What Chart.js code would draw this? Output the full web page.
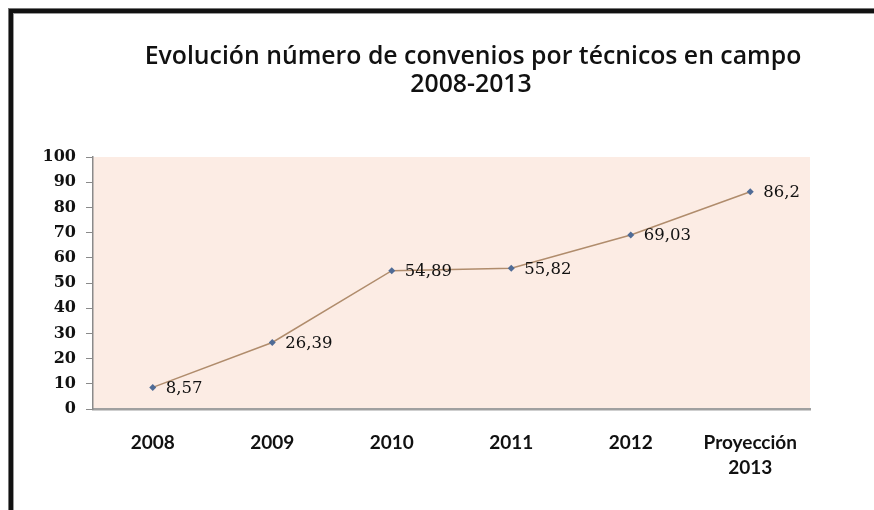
<!DOCTYPE html>
<html>
<head>
<meta charset="utf-8">
<script src="https://cdn.jsdelivr.net/npm/chart.js@4.4.1/dist/chart.umd.min.js"></script>
<style>
  html, body { margin: 0; padding: 0; background: #fff; overflow: hidden; }
  #wrap { position: relative; width: 874px; height: 510px; }
  #frame {
    position: absolute; left: 9px; top: 9px; width: 1000px; height: 700px;
    border-left: 4px solid #111; border-top: 4px solid #111;
    box-shadow: -1px -1px 0 0 #777, inset 1px 1px 0 0 #999;
    pointer-events: none;
  }
  canvas { position: absolute; left: 0; top: 0; }
</style>
</head>
<body>
<div id="wrap">
  <div id="frame"></div>
  <canvas id="chart" width="874" height="510"></canvas>
</div>
<script>
// datos
const categorias = ["2008", "2009", "2010", "2011", "2012", ["Proyección", "2013"]];
const convenios = [8.57, 26.39, 54.89, 55.82, 69.03, 86.2];
const ticksY = [0, 10, 20, 30, 40, 50, 60, 70, 80, 90, 100];
const titulo = ["Evolución número de convenios por técnicos en campo", "2008-2013"];

// fondo del área de trazado
const fondoArea = {
  id: "fondoArea",
  beforeDraw(chart) {
    const { ctx, chartArea: a } = chart;
    ctx.save();
    ctx.fillStyle = "#fcece4";
    ctx.fillRect(a.left, a.top, a.right - a.left, a.bottom - a.top);
    ctx.restore();
  },
};

// título en dos líneas
const tituloPlugin = {
  id: "tituloPlugin",
  afterDraw(chart) {
    const ctx = chart.ctx;
    ctx.save();
    ctx.fillStyle = "#111";
    ctx.font = "600 24.8px 'Open Sans'";
    ctx.textAlign = "center";
    ctx.textBaseline = "middle";
    ctx.fillText(titulo[0], 473, 57);
    ctx.fillText(titulo[1], 471, 85);
    ctx.restore();
  },
};

// etiquetas de datos a la derecha de cada punto
const etiquetas = {
  id: "etiquetas",
  afterDatasetsDraw(chart) {
    const ctx = chart.ctx;
    const meta = chart.getDatasetMeta(0);
    ctx.save();
    ctx.fillStyle = "#111";
    ctx.font = "16.5px 'DejaVu Serif'";
    ctx.textAlign = "left";
    ctx.textBaseline = "middle";
    meta.data.forEach((p, i) => {
      ctx.fillText(String(convenios[i]).replace(".", ","), p.x + 13, p.y + 1);
    });
    ctx.restore();
  },
};

new Chart(document.getElementById("chart"), {
  type: "line",
  data: {
    labels: categorias,
    datasets: [
      {
        data: convenios,
        borderColor: "#b08c6c",
        borderWidth: 1.5,
        tension: 0,
        pointStyle: "rectRot",
        pointRadius: 3.5,
        pointBackgroundColor: "#4f6b96",
        pointBorderColor: "#4f6b96",
        pointBorderWidth: 0,
      },
    ],
  },
  options: {
    responsive: false,
    animation: false,
    events: [],
    layout: { padding: { left: 0, right: 64, top: 157, bottom: 0 } },
    plugins: { legend: { display: false }, title: { display: false }, tooltip: { enabled: false } },
    scales: {
      x: {
        offset: true,
        grid: { display: false },
        border: { display: true, color: "#a0a0a0", width: 2.5 },
        ticks: {
          color: "#111",
          font: { family: "Lato", size: 19, weight: "bold", lineHeight: 1.3 },
          padding: 14,
          maxRotation: 0,
          autoSkip: false,
        },
        afterFit(scale) { scale.height = 101; },
      },
      y: {
        min: 0,
        max: 100,
        afterBuildTicks(scale) { scale.ticks = ticksY.map((v) => ({ value: v })); },
        grid: { drawOnChartArea: false, color: "#8a8a8a", tickLength: 7, lineWidth: 1 },
        border: { display: true, color: "#8a8a8a", width: 1.5 },
        ticks: {
          color: "#111",
          font: { family: "DejaVu Serif", size: 16, weight: "bold" },
          padding: 10,
        },
        afterFit(scale) { scale.width = 93; },
      },
    },
  },
  plugins: [fondoArea, tituloPlugin, etiquetas],
});
</script>
</body>
</html>
